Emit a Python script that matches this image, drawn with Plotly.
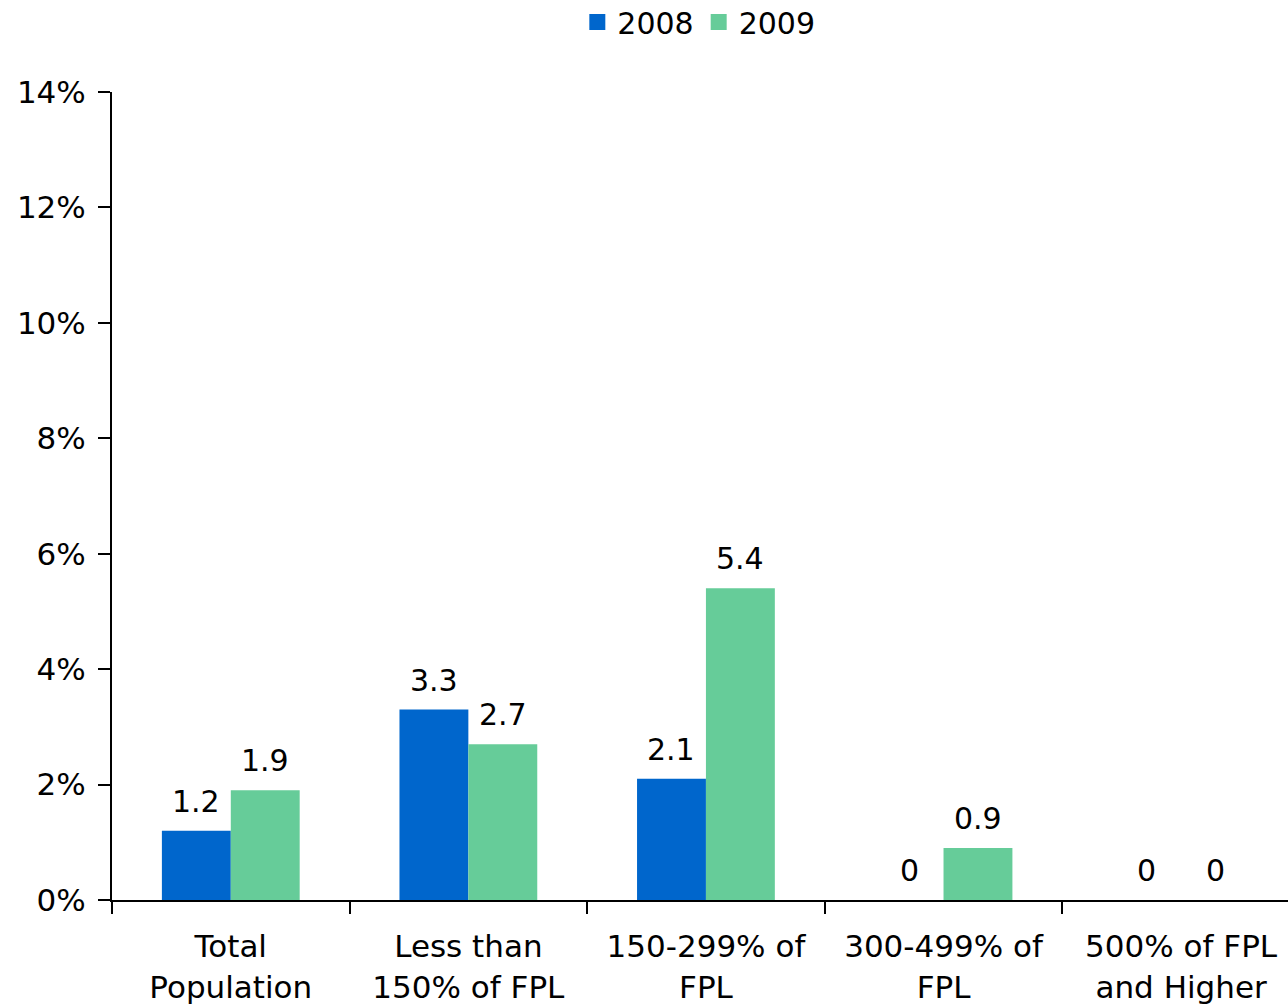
import plotly.graph_objects as go

categories = ["Total<br>Population", "Less than<br>150% of FPL", "150-299% of<br>FPL",
              "300-499% of<br>FPL", "500% of FPL<br>and Higher"]
values_2008 = [1.2, 3.3, 2.1, 0, 0]
values_2009 = [1.9, 2.7, 5.4, 0.9, 0]
tick_vals = [0, 2, 4, 6, 8, 10, 12, 14]
tick_text = ["0%", "2%", "4%", "6%", "8%", "10%", "12%", "14%"]

FONT = "DejaVu Sans, Verdana, sans-serif"
BLUE = "#0066CC"
GREEN = "#66CC99"
BARGAP = 0.42

fig = go.Figure()
fig.add_trace(go.Bar(name="2008", x=categories, y=values_2008,
                     marker=dict(color=BLUE, line=dict(width=0)), showlegend=False))
fig.add_trace(go.Bar(name="2009", x=categories, y=values_2009,
                     marker=dict(color=GREEN, line=dict(width=0)), showlegend=False))

# legend entries with square swatches
for name, col in [("2008", BLUE), ("2009", GREEN)]:
    fig.add_trace(go.Scatter(x=[None], y=[None], mode="markers", name=name,
                             marker=dict(symbol="square", size=24, color=col)))

# data labels above bars
half = (1 - BARGAP) / 4
annotations = []
for i in range(len(categories)):
    for vals, off in [(values_2008, -half), (values_2009, half)]:
        annotations.append(dict(x=i + off, y=vals[i], xref="x", yref="y",
                                text=str(vals[i]), showarrow=False, yanchor="bottom",
                                yshift=10, font=dict(size=30, color="#000000")))

fig.update_layout(
    width=1288, height=1004,
    margin=dict(l=112, r=0, t=92, b=104, autoexpand=False),
    barmode="group", bargap=BARGAP, bargroupgap=0,
    plot_bgcolor="white", paper_bgcolor="white",
    font=dict(family=FONT, size=30, color="#000000"),
    legend=dict(orientation="h", x=0.499, xanchor="center", yref="container",
                y=1 - 22 / 1004, yanchor="middle", font=dict(size=30),
                itemwidth=30, traceorder="normal", tracegroupgap=0),
    annotations=annotations,
)
fig.update_xaxes(type="category", categoryorder="array", categoryarray=categories,
                 range=[-0.5, 4.45], showline=True, linecolor="black", linewidth=2,
                 ticks="outside", tickson="boundaries", ticklen=12, tickwidth=2,
                 tickcolor="black", showgrid=False, zeroline=False, automargin=False,
                 ticklabelstandoff=18, tickfont=dict(size=31))
fig.update_yaxes(range=[0, 14], tickvals=tick_vals, ticktext=tick_text, showline=True,
                 linecolor="black", linewidth=2, ticks="outside", ticklen=12, tickwidth=2,
                 tickcolor="black", showgrid=False, zeroline=False, automargin=False,
                 ticklabelstandoff=6, tickfont=dict(size=31))

fig.write_html("out.html", config={"displayModeBar": False},
               post_script="document.body.style.margin='0';"
               "document.body.style.overflow='hidden';")
